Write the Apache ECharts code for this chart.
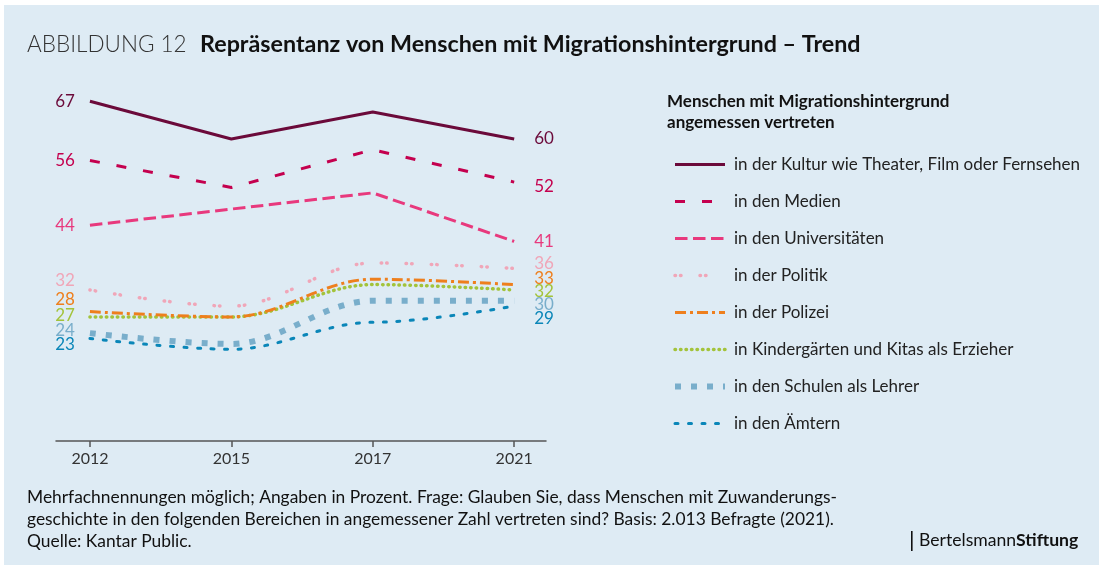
<!DOCTYPE html>
<html>
<head>
<meta charset="utf-8">
<script src="https://cdn.jsdelivr.net/npm/echarts@6/dist/echarts.min.js"></script>
<style>
  html, body { margin: 0; padding: 0; background: #fff; }
  #main { width: 1099px; height: 565px; }
</style>
</head>
<body>
<div id="main"></div>
<script>
// Jahre (Kategorien)
var years = ["2012", "2015", "2017", "2021"];

// Werte in Prozent
var kultur = [67, 60, 65, 60];
var medien = [56, 51, 58, 52];
var unis = [44, 47, 50, 41];
var politik = [32, 29, 37, 36];
var polizei = [28, 27, 34, 33];
var kitas = [27, 27, 33, 32];
var schulen = [24, 22, 30, 30];
var aemter = [23, 21, 26, 29];

var names = [
  "in der Kultur wie Theater, Film oder Fernsehen",
  "in den Medien",
  "in den Universitäten",
  "in der Politik",
  "in der Polizei",
  "in Kindergärten und Kitas als Erzieher",
  "in den Schulen als Lehrer",
  "in den Ämtern"
];

// Darstellung
var colors = ["#6b0a3a", "#c4004e", "#e8397d", "#f0a6b8", "#ee7f1d", "#a3c33a", "#79aecb", "#0a86b8"];
var styles = [
  { width: 3, type: "solid" },
  { width: 3, type: [10, 17] },
  { width: 3, type: [12.5, 5.5] },
  { width: 3.5, type: [0.5, 5, 0.5, 19], cap: "round" },
  { width: 3, type: [11, 4, 3, 4] },
  { width: 3.5, type: [0.5, 5], cap: "round" },
  { width: 6, type: [6, 10] },
  { width: 3, type: [3, 10.5], cap: "round" }
];
var smooth = [false, false, false, true, true, true, true, true];
// Etiketten-Verschiebung (y) links / rechts
var nudgeLeft = [0, 0, 0, -9, -12, -1, -3, 6];
var nudgeRight = [0, 4, 0, -5, -6, 2, 4, 12];

var allData = [kultur, medien, unis, politik, polizei, kitas, schulen, aemter];

var chart = echarts.init(document.getElementById("main"));

var series = allData.map(function (vals, s) {
  var last = vals.length - 1;
  return {
    name: names[s],
    type: "line",
    symbol: "circle",
    symbolSize: 0,
    showSymbol: true,
    smooth: smooth[s] ? 0.35 : false,
    smoothMonotone: "x",
    color: colors[s],
    lineStyle: Object.assign({ color: colors[s] }, styles[s]),
    z: 10 - s,
    data: vals.map(function (v, i) {
      var item = { value: [i, v] };
      if (i === 0) {
        item.label = { show: true, position: "left", distance: 15 };
      } else if (i === last) {
        item.label = { show: true, position: "right", distance: 20 };
      }
      return item;
    }),
    label: {
      show: false,
      color: colors[s],
      fontFamily: "Lato",
      fontSize: 17,
      formatter: function (p) { return p.value[1]; }
    },
    labelLayout: function (p) {
      return { hideOverlap: false, dy: p.dataIndex === 0 ? nudgeLeft[s] : nudgeRight[s] };
    },
    emphasis: { disabled: true }
  };
});

chart.setOption({
  backgroundColor: "#fff",
  animation: false,
  textStyle: { fontFamily: "Lato" },
  grid: { left: 56, right: 553, top: 85, bottom: 124 },
  xAxis: {
    type: "value",
    min: -0.24,
    max: 3.225,
    splitLine: { show: false },
    axisLine: { show: true, lineStyle: { color: "#555", width: 1.5 } },
    axisTick: { show: true, customValues: [0, 1, 2, 3], length: 6, lineStyle: { color: "#555", width: 1.5 } },
    axisLabel: {
      customValues: [0, 1, 2, 3],
      formatter: function (v) { return years[v]; },
      color: "#333",
      fontSize: 16,
      margin: 10
    }
  },
  yAxis: {
    type: "value",
    min: 4,
    max: 70,
    show: false
  },
  legend: {
    orient: "vertical",
    left: 667,
    top: 151,
    itemWidth: 50,
    itemHeight: 14,
    itemGap: 20,
    selectedMode: false,
    itemStyle: { opacity: 0 },
    lineStyle: { width: "inherit" },
    textStyle: { fontSize: 17, color: "#222", padding: [0, 0, 0, 4] },
    data: names
  },
  graphic: [
    { type: "rect", z: -10, silent: true, shape: { x: 4, y: 5, width: 1095, height: 560 }, style: { fill: "#deebf4" } },
    { type: "text", left: 27, top: 33, style: { text: "ABBILDUNG 12", font: "300 22.5px Lato", fill: "#333" } },
    { type: "text", left: 200, top: 33, style: { text: "Repräsentanz von Menschen mit Migrationshintergrund – Trend", font: "bold 23.3px Lato", fill: "#111" } },
    { type: "text", left: 667, top: 91, style: { text: "Menschen mit Migrationshintergrund\nangemessen vertreten", font: "bold 17px Lato", lineHeight: 21, fill: "#111" } },
    { type: "text", left: 27, top: 486, style: {
      text: "Mehrfachnennungen möglich; Angaben in Prozent. Frage: Glauben Sie, dass Menschen mit Zuwanderungs-\ngeschichte in den folgenden Bereichen in angemessener Zahl vertreten sind? Basis: 2.013 Befragte (2021).\nQuelle: Kantar Public.",
      font: "17.4px Lato", lineHeight: 22, fill: "#111" } },
    { type: "rect", shape: { x: 911, y: 531, width: 1.6, height: 20 }, style: { fill: "#111" } },
    { type: "text", left: 919, top: 531, style: {
      text: "{a|Bertelsmann}{b|Stiftung}",
      rich: {
        a: { font: "17.6px Lato", fill: "#111" },
        b: { font: "bold 17.6px Lato", fill: "#111" }
      } } }
  ],
  series: series
});
</script>
</body>
</html>
